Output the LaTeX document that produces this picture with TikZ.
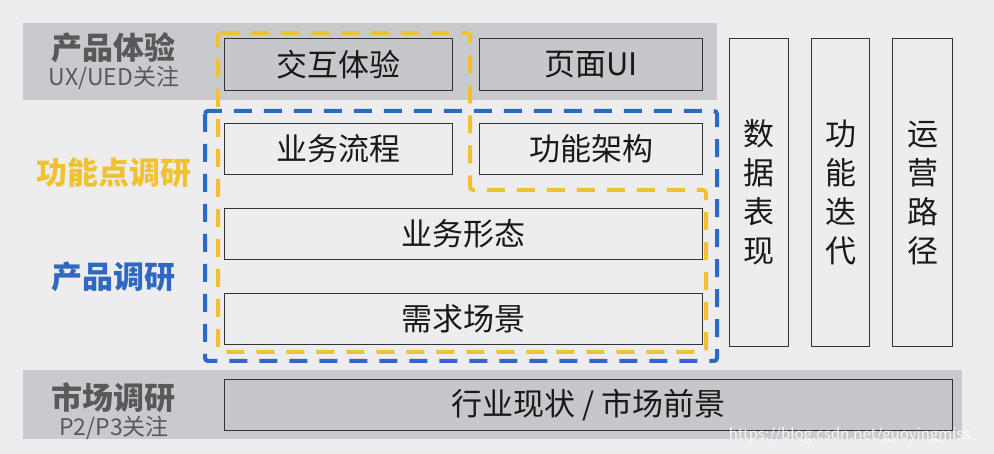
\documentclass[tikz,border=0pt]{standalone}
\usepackage{fontspec}
\setmainfont{Noto Sans CJK SC}
\usetikzlibrary{positioning}

\definecolor{bggray}{HTML}{EDEDEF}
\definecolor{bandgray}{HTML}{C9CACE}
\definecolor{boxgray}{HTML}{C6C7CB}
\definecolor{dashyellow}{HTML}{F0C232}
\definecolor{dashblue}{HTML}{2F68C0}
\definecolor{labelgray}{HTML}{59595B}

\begin{document}
\begin{tikzpicture}[x=1pt, y=-1pt,
  card/.style={draw=black!80, line width=1.3pt, inner sep=0pt,
    anchor=north west, text=black!90, font=\fontsize{31}{33}\selectfont},
  layer/.style={font=\bfseries\fontsize{31}{33}\selectfont},
  note/.style={font=\fontsize{23}{25}\selectfont, text=labelgray},
  ring/.style={line width=4pt, dash pattern=on 18pt off 12pt,
    rounded corners=3pt}]
  % canvas and the two grey bands
  \fill[bggray] (0,0) rectangle (994,454);
  \fill[bandgray] (23,23) rectangle (717,100);
  \fill[bandgray] (23,370) rectangle (962,439);
  % left column: layer names
  \node[layer, text=labelgray] (ux) at (113,48) {产品体验};
  \node[note] (uxnote) at (114,78) {UX/UED关注};
  \node[layer, text=dashyellow] (feat) at (114,173) {功能点调研};
  \node[layer, text=dashblue] (prod) at (113,277) {产品调研};
  \node[layer, text=labelgray] (mkt) at (113,398) {市场调研};
  \node[note] (mktnote) at (114,428) {P2/P3关注};
  % product experience row
  \node[card, fill=boxgray, minimum width=228pt, minimum height=52pt]
    (inter) at (224,38) {交互体验};
  \node[card, fill=boxgray, minimum width=223pt, minimum height=52pt]
    (page) at (479,38) {页面UI};
  % product research block
  \node[card, minimum width=228pt, minimum height=51pt]
    (flow) at (224,123) {业务流程};
  \node[card, minimum width=223pt, minimum height=51pt]
    (arch) at (479,123) {功能架构};
  \node[card, minimum width=478pt, minimum height=51pt]
    (form) at (224,208) {业务形态};
  \node[card, minimum width=478pt, minimum height=51pt]
    (need) at (224,293) {需求场景};
  % market research row
  \node[card, fill=boxgray, minimum width=728pt, minimum height=51pt]
    (market) at (224,379) {行业现状 / 市场前景};
  % the three pillars on the right
  \node[card, align=center, font=\fontsize{31}{39}\selectfont,
    minimum width=59pt, minimum height=308pt] (data) at (729,38)
    {数\\据\\表\\现};
  \node[card, align=center, font=\fontsize{31}{39}\selectfont,
    minimum width=58pt, minimum height=308pt] (iter) at (811,38)
    {功\\能\\迭\\代};
  \node[card, align=center, font=\fontsize{31}{39}\selectfont,
    minimum width=60pt, minimum height=308pt] (ops) at (892,38)
    {运\\营\\路\\径};
  % dashed outlines: product research (blue), feature research (yellow)
  \draw[ring, dashblue] (205,111) rectangle (717,361);
  \draw[ring, dashyellow] (218,33) -- (470,33) -- (470,190)
    -- (706,190) -- (706,352) -- (218,352) -- cycle;
  % watermark
  \node[font=\fontsize{15}{17}\selectfont, text=white, opacity=0.85,
    anchor=east] (mark) at (974,435) {https://blog.csdn.net/guoyingmiss};
\end{tikzpicture}
\end{document}
